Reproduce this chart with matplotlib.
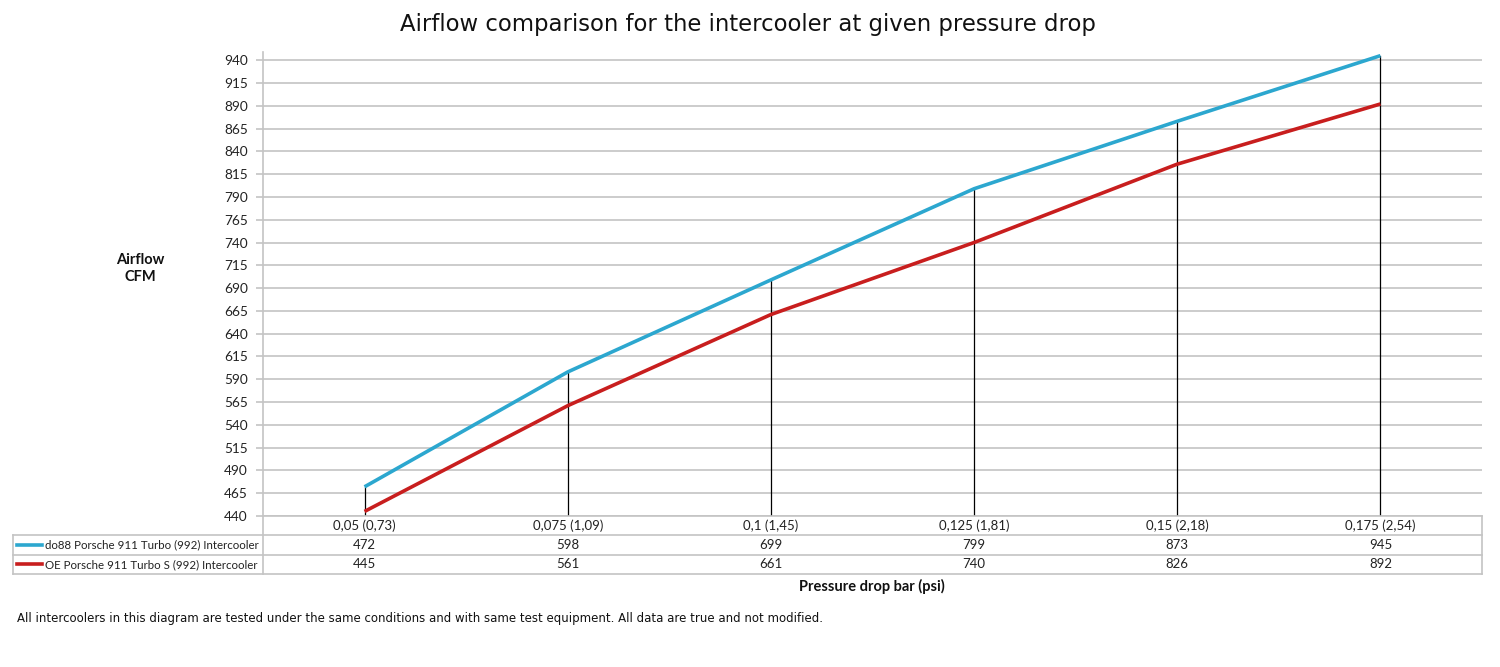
import numpy as np
import matplotlib.pyplot as plt
from matplotlib.lines import Line2D

# Data
categories = ['0,05 (0,73)', '0,075 (1,09)', '0,1 (1,45)', '0,125 (1,81)', '0,15 (2,18)', '0,175 (2,54)']
do88 = [472, 598, 699, 799, 873, 945]
oe = [445, 561, 661, 740, 826, 892]
series_names = ['do88 Porsche 911 Turbo (992) Intercooler', 'OE Porsche 911 Turbo S (992) Intercooler']
series_colors = ['#2CA7CF', '#C81E1E']
yticks = list(range(440, 941, 25))

plt.rcParams['font.family'] = ['Lato', 'DejaVu Sans']

fig = plt.figure(figsize=(15, 6.67), dpi=100)
ax = fig.add_axes([0.1753, 0.2264, 0.8127, 0.6956])

x = np.arange(len(categories))

# drop lines
for xi, a, b in zip(x, do88, oe):
    ax.plot([xi, xi], [440, max(a, b)], color='black', lw=0.9, zorder=2)

ax.plot(x, do88, color=series_colors[0], lw=2.6, zorder=3, solid_capstyle='butt')
ax.plot(x, oe, color=series_colors[1], lw=2.6, zorder=3, solid_capstyle='butt')

ax.set_xlim(-0.5, len(categories) - 0.5)
ax.set_ylim(440, 949)
ax.set_yticks(yticks)
ax.set_xticks([])
ax.yaxis.grid(True, color='#C4C4C4', lw=1.2)
ax.set_axisbelow(True)
for s in ['top', 'right', 'bottom']:
    ax.spines[s].set_visible(False)
ax.spines['left'].set_color('#C4C4C4')
ax.spines['left'].set_linewidth(1.2)
ax.tick_params(axis='y', length=5, color='#C4C4C4', width=1.2, labelsize=9.8, colors='#222222', pad=6)

# data table under the chart
tx = ax.get_xaxis_transform()
ta = ax.transAxes
row_edges = [0.0, -0.041, -0.0841, -0.125]
left = -0.205
gray = '#C4C4C4'
ax.add_line(Line2D([0, 1], [row_edges[0]] * 2, transform=ta, color=gray, lw=1.2, clip_on=False))
for r in row_edges[1:]:
    ax.add_line(Line2D([left, 1], [r, r], transform=ta, color=gray, lw=1.2, clip_on=False))
ax.add_line(Line2D([0, 0], [0, row_edges[3]], transform=ta, color=gray, lw=1.2, clip_on=False))
ax.add_line(Line2D([1, 1], [0, row_edges[3]], transform=ta, color=gray, lw=1.2, clip_on=False))
ax.add_line(Line2D([left, left], [row_edges[1], row_edges[3]], transform=ta, color=gray, lw=1.2, clip_on=False))

for xi, c in zip(x, categories):
    ax.text(xi, (row_edges[0] + row_edges[1]) / 2, c, transform=tx, ha='center', va='center',
            fontsize=9.5, color='#222222')
for i, vals in enumerate([do88, oe]):
    yc = (row_edges[i + 1] + row_edges[i + 2]) / 2
    for xi, v in zip(x, vals):
        ax.text(xi, yc, str(v), transform=tx, ha='center', va='center', fontsize=9.5, color='#222222')
    ax.add_line(Line2D([left + 0.003, left + 0.024], [yc, yc], transform=ta, color=series_colors[i],
                       lw=2.6, clip_on=False))
    ax.text(left + 0.026, yc, series_names[i], transform=ta, ha='left', va='center',
            fontsize=8.3, color='#222222')

fig.text(0.4987, 0.964, 'Airflow comparison for the intercooler at given pressure drop',
         ha='center', va='center', fontsize=16.4, family='DejaVu Sans', color='#111111')
fig.text(0.0933, 0.598, 'Airflow\nCFM', ha='center', va='center', fontsize=10.5,
         fontweight='bold', linespacing=1.25, color='#111111')
fig.text(0.5813, 0.121, 'Pressure drop bar (psi)', ha='center', va='center', fontsize=10.5,
         fontweight='bold', color='#111111')
fig.text(0.0113, 0.073, 'All intercoolers in this diagram are tested under the same conditions and with same test equipment. All data are true and not modified.',
         ha='left', va='center', fontsize=8.45, family='DejaVu Sans', color='#111111')

fig.savefig('out.png', dpi=100)
